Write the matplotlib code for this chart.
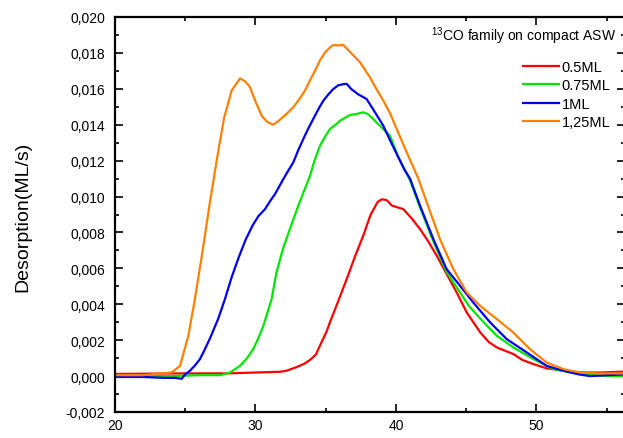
import matplotlib
matplotlib.use("Agg")
import matplotlib.pyplot as plt
from matplotlib.ticker import MultipleLocator, FuncFormatter

plt.rcParams["font.family"] = ["Liberation Sans", "DejaVu Sans"]
plt.rcParams["mathtext.default"] = "regular"

# TPD traces, temperature (K) vs desorption rate (ML/s)
t_05 = [20, 25, 28, 30, 31.74, 32.22, 32.93, 33.5, 33.88, 34.3, 34.59, 35.07, 35.3,
        35.9, 36.49, 37.1, 37.67, 38.2, 38.7, 39.0, 39.34, 39.7, 40.1, 40.52, 41.1,
        41.71, 42.3, 42.9, 43.6, 44.32, 45.03, 46.0, 46.6, 47.17, 47.8, 48.35, 49.0,
        49.77, 50.72, 52, 53.1, 54.5, 56.3]
y_05 = [0.00012, 0.00015, 0.00015, 0.0002, 0.00024, 0.0003, 0.0005, 0.0007, 0.0009,
        0.0012, 0.0017, 0.0025, 0.003, 0.0042, 0.0054, 0.0067, 0.00782, 0.009, 0.0097,
        0.00985, 0.0098, 0.0095, 0.0094, 0.0093, 0.0088, 0.00819, 0.0075, 0.0067,
        0.0057, 0.00466, 0.00355, 0.00243, 0.0019, 0.0016, 0.0014, 0.00123, 0.0009,
        0.00067, 0.00043, 0.0003, 0.0002, 0.0002, 0.00025]

t_075 = [20, 24, 26, 27.5, 28.19, 28.9, 29.4, 29.84, 30.2, 30.56, 31.15, 31.5, 31.96,
         32.5, 33.05, 33.5, 33.88, 34.2, 34.59, 35.0, 35.3, 35.7, 36.01, 36.4, 36.73,
         37.2, 37.67, 38.0, 38.4, 38.86, 39.57, 40.17, 41.0, 41.71, 42.66, 43.6,
         44.56, 45.2, 46.0, 47.17, 48.35, 49.77, 51.2, 53.1, 55, 56.3]
y_075 = [0.0, 0.0, 0.00005, 0.00005, 0.0002, 0.00057, 0.001, 0.0015, 0.0021, 0.0028,
         0.0043, 0.0058, 0.0071, 0.0083, 0.0095, 0.0104, 0.01116, 0.012, 0.01283,
         0.0134, 0.01376, 0.014, 0.01422, 0.0144, 0.01454, 0.0146, 0.01469, 0.0146,
         0.0143, 0.01394, 0.01339, 0.0122, 0.0109, 0.0094, 0.0075, 0.0058, 0.00466,
         0.0039, 0.0032, 0.00225, 0.0016, 0.00095, 0.00039, 0.0001, 0.0, 0.0]

t_1 = [20, 22, 23.5, 24.3, 24.75, 25.0, 25.34, 25.7, 26.05, 26.4, 26.76, 27.35, 27.83,
       28.3, 28.8, 29.3, 29.8, 30.2, 30.68, 31.0, 31.39, 31.98, 32.3, 32.69, 33.0,
       33.4, 33.7, 34.11, 34.5, 34.83, 35.2, 35.54, 35.9, 36.2, 36.49, 36.8, 37.3,
       37.91, 38.5, 39.1, 39.6, 40.17, 40.6, 41.0, 41.71, 42.66, 43.6, 44.56, 45.5,
       46.69, 47.88, 49.3, 50.72, 51.91, 53.0, 53.8, 55.0, 56.3]
y_1 = [-0.00005, -0.00005, -0.0001, -0.0001, -0.00015, 0.0001, 0.0003, 0.0006, 0.00095,
       0.0015, 0.0021, 0.0032, 0.0043, 0.0055, 0.0066, 0.0076, 0.0084, 0.0089, 0.0093,
       0.0097, 0.01014, 0.01097, 0.0114, 0.0119, 0.0125, 0.0132, 0.0137, 0.01432,
       0.0149, 0.01534, 0.0157, 0.01599, 0.0162, 0.01625, 0.01628, 0.016, 0.0157,
       0.01543, 0.0147, 0.01394, 0.0131, 0.01218, 0.0115, 0.011, 0.00949, 0.00763,
       0.00596, 0.00503, 0.0041, 0.003, 0.00206, 0.00132, 0.00057, 0.0003, 0.0001,
       0.0, 0.00005, 0.0001]

t_125 = [20, 22, 24.03, 24.63, 25.22, 25.69, 26.2, 26.76, 27.3, 27.77, 28.3, 28.9, 29.3,
         29.6, 30.0, 30.44, 30.85, 31.27, 31.7, 32.2, 32.69, 33.1, 33.52, 33.9, 34.23,
         34.6, 34.95, 35.3, 35.54, 35.9, 36.25, 36.8, 37.44, 38.15, 38.6, 39.1, 39.6,
         40.05, 40.8, 41.59, 42.19, 43.13, 44.08, 45.03, 45.98, 47.17, 48.35, 49.54,
         50.72, 51.91, 53.1, 54.5, 56.3]
y_125 = [0.00005, 0.00005, 0.0002, 0.00057, 0.00225, 0.0043, 0.0068, 0.0097, 0.0123,
         0.0144, 0.0159, 0.01658, 0.0164, 0.0161, 0.0153, 0.0145, 0.01415, 0.014,
         0.01425, 0.0146, 0.01497, 0.0154, 0.0159, 0.0165, 0.017, 0.0176, 0.01803,
         0.0183, 0.01844, 0.01842, 0.01844, 0.018, 0.01748, 0.01664, 0.016, 0.01534,
         0.0146, 0.01376, 0.0124, 0.011, 0.00968, 0.00763, 0.00596, 0.00466, 0.00392,
         0.00318, 0.00243, 0.0015, 0.00076, 0.00039, 0.0002, 0.00015, 0.00015]

labels = ["0.5ML", "0.75ML", "1ML", "1,25ML"]
colors = ["#ff0000", "#00e600", "#0000ee", "#ff8000"]

fig = plt.figure(figsize=(6.23, 4.39), dpi=100)
ax = fig.add_axes([115 / 623, 26 / 439, 510 / 623, 395 / 439])

for t, y, lab, c in zip([t_05, t_075, t_1, t_125], [y_05, y_075, y_1, y_125], labels, colors):
    ax.plot(t, y, color=c, lw=1.6, label=lab)

ax.set_xlim(20, 56.3)
ax.set_ylim(-0.002, 0.020)

ax.xaxis.set_major_locator(MultipleLocator(10))
ax.xaxis.set_minor_locator(MultipleLocator(5))
ax.yaxis.set_major_locator(MultipleLocator(0.002))
ax.yaxis.set_minor_locator(MultipleLocator(0.001))
ax.yaxis.set_major_formatter(
    FuncFormatter(lambda v, p: f"{round(v, 3) + 0.0:.3f}".replace(".", ","))
)

ax.tick_params(which="both", direction="in", top=True, right=True, width=1.2,
               labelsize=10)
ax.tick_params(which="major", length=6)
ax.tick_params(which="minor", length=3)
ax.tick_params(axis="y", pad=7)
ax.tick_params(axis="x", pad=4)

for s in ax.spines.values():
    s.set_linewidth(1.6)

fig.text(23 / 623, 1 - 217 / 439, "Desorption(ML/s)", rotation=90,
         ha="center", va="center", fontsize=14)

ax.text(0.982, 0.953, "$^{13}$CO family on compact ASW", transform=ax.transAxes,
        ha="right", va="center", fontsize=10)

ax.legend(loc="upper left", bbox_to_anchor=(0.8, 0.891), frameon=False,
          borderpad=0, borderaxespad=0, handlelength=2.5, handletextpad=0.15,
          labelspacing=0.3, fontsize=10.5)

fig.savefig("out.png", dpi=100)
